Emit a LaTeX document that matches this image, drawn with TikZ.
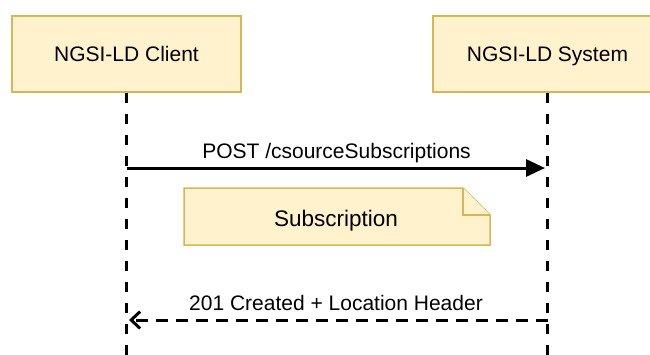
\documentclass[tikz,border=0pt]{standalone}
\usepackage{fontspec}
\setmainfont{Liberation Sans}
\usetikzlibrary{arrows.meta}
\definecolor{boxfill}{HTML}{FFF2CC}
\definecolor{boxdraw}{HTML}{D6B656}
\begin{document}
\begin{tikzpicture}[x=1pt,y=-1pt,
  actor/.style={draw=boxdraw, fill=boxfill, line width=1.5pt, minimum width=229pt, minimum height=76pt, inner sep=0pt, font=\fontsize{21}{25}\selectfont, text height=15pt, text depth=0pt},
  lifeline/.style={line width=3pt, dash pattern=on 10pt off 11pt},
  msgtext/.style={font=\fontsize{21}{25}\selectfont, anchor=base, inner sep=0pt},
  notetext/.style={font=\fontsize{22.5}{26}\selectfont, anchor=base, inner sep=0pt},
  callarrow/.style={line width=3pt, -{Triangle[length=19pt,width=17pt]}},
  replyarrow/.style={line width=3pt, dash pattern=on 12pt off 8pt, -{Straight Barb[length=9pt,width=17pt,line width=3pt]}},
  notebox/.style={draw=boxdraw, fill=boxfill, line width=1.5pt, line join=miter}
]
\useasboundingbox (0,0) rectangle (650,354);
\node[actor] (client) at (126.5,54) {NGSI-LD Client};
\node[actor] (system) at (547.5,54) {NGSI-LD System};
\coordinate (cend) at (126.5,362);
\coordinate (send) at (547.5,362);
\draw[lifeline] (client.south) -- (cend);
\draw[lifeline] (system.south) -- (send);
% call
\coordinate (c1) at (126.5,168);
\coordinate (s1) at (545,168);
\draw[callarrow] (c1) -- (s1);
\node[msgtext] (postlbl) at (336.5,158) {POST /csourceSubscriptions};
% note
\draw[notebox] (184,188) -- (463,188) -- (490,215) -- (490,245) -- (184,245) -- cycle;
\draw[notebox] (463,188) -- (463,215) -- (490,215);
\node[notetext] (note) at (336,226) {Subscription};
% reply
\coordinate (s2) at (547.5,320);
\coordinate (c2) at (129,320);
\draw[replyarrow] (s2) -- (c2);
\node[msgtext] (replylbl) at (336,310) {201 Created + Location Header};
\end{tikzpicture}
\end{document}
